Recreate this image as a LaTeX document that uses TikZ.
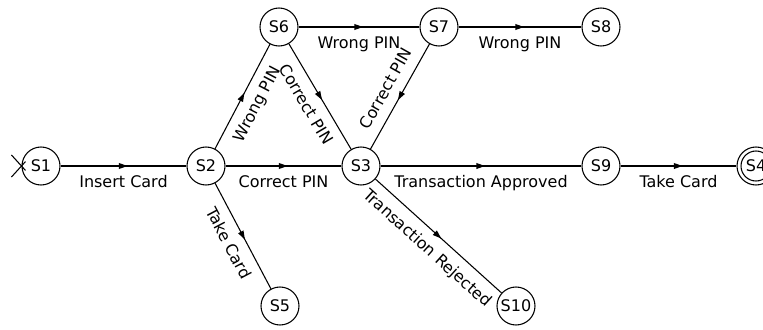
\documentclass[tikz,border=0pt]{standalone}
\usepackage{fontspec}
\setmainfont{DejaVu Sans}
\usetikzlibrary{decorations.markings}
\begin{document}
\begin{tikzpicture}[x=0.75pt,y=-0.75pt,line width=0.8pt,
  state/.style={circle,draw,minimum size=28.5pt,inner sep=0pt,font=\fontsize{12}{14}\selectfont},
  trans/.style={postaction={decorate},decoration={markings,mark=at position 0.5 with {\fill (3pt,0) -- (-3.5pt,2.3pt) -- (-3.5pt,-2.3pt) -- cycle;}}},
  lbl/.style={font=\fontsize{12}{14}\selectfont,inner sep=0pt,text height=9pt,text depth=2.6pt,midway}]
\useasboundingbox (0,0) rectangle (763,329);
\node[state] (S1) at (41,166) {S1};
\node[state] (S2) at (206,166) {S2};
\node[state] (S3) at (361,166) {S3};
\node[state] (S6) at (279,27) {S6};
\node[state] (S7) at (439,27) {S7};
\node[state] (S8) at (601,27) {S8};
\node[state] (S9) at (601,166) {S9};
\node[state] (S4) at (756,166) {S4};
\node[state] (S5) at (280,306) {S5};
\node[state] (S10) at (516,306) {S10};
\draw (S4.center) circle[radius=11.25pt];
\coordinate (init) at (S1.west);
\draw (init) ++(-10,-11) -- ++(14,15.4);
\draw (init) ++(-10,11) -- ++(14,-15.4);
\draw[trans] (S1) -- node[lbl,below=6.75pt]{Insert Card} (S2);
\draw[trans] (S2) -- node[lbl,below=6.75pt]{Correct PIN} (S3);
\draw[trans] (S3) -- node[lbl,below=6.75pt]{Transaction Approved} (S9);
\draw[trans] (S9) -- node[lbl,below=6.75pt]{Take Card} (S4);
\draw[trans] (S6) -- node[lbl,below=6.75pt]{Wrong PIN} (S7);
\draw[trans] (S7) -- node[lbl,below=6.75pt]{Wrong PIN} (S8);
\draw[trans] (S2) -- node[lbl,sloped,below=6.75pt]{Wrong PIN} (S6);
\draw[trans] (S6) -- node[lbl,sloped,below=6.75pt]{Correct PIN} (S3);
\draw[trans] (S7) -- node[lbl,sloped,above=5pt]{Correct PIN} (S3);
\draw[trans] (S2) -- node[lbl,sloped,below=6.75pt]{Take Card} (S5);
\draw[trans] (S3) -- node[lbl,sloped,below=6.75pt]{Transaction Rejected} (S10);
\end{tikzpicture}
\end{document}
